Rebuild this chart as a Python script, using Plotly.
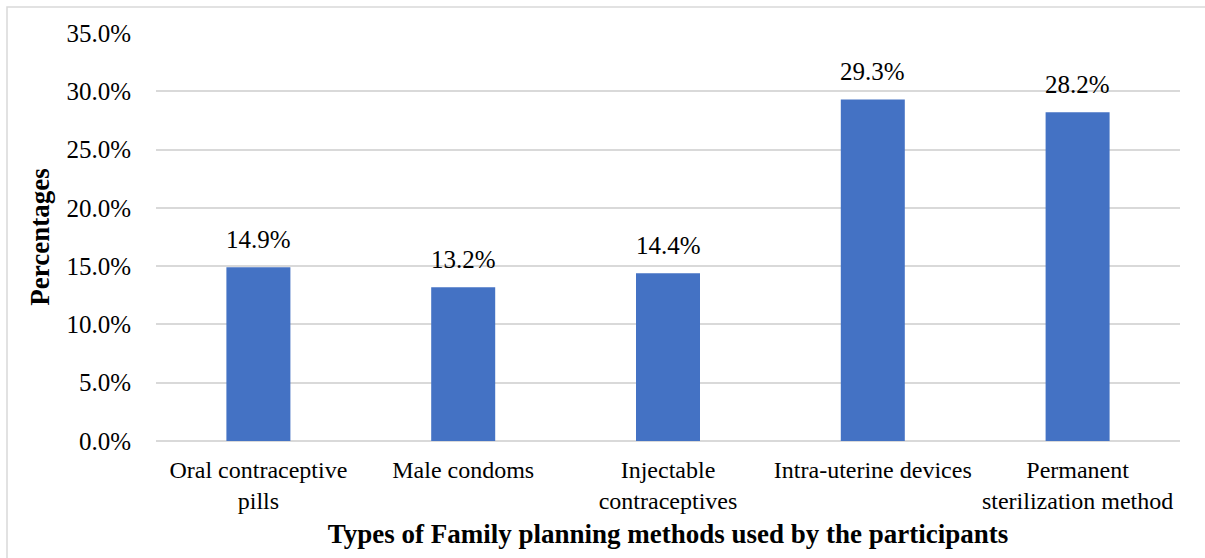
import plotly.graph_objects as go

# Family planning methods and share of participants using each
categories = [
    "Oral contraceptive<br>pills",
    "Male condoms",
    "Injectable<br>contraceptives",
    "Intra-uterine devices",
    "Permanent<br>sterilization method",
]
percentages = [14.9, 13.2, 14.4, 29.3, 28.2]
y_ticks = [0, 5, 10, 15, 20, 25, 30, 35]

FONT = "Liberation Serif, Times New Roman, serif"
W, H = 1205, 558
L, R, T, B = 156, 25, 33, 117

fig = go.Figure(
    go.Bar(
        x=categories,
        y=percentages,
        marker=dict(color="#4472C4", line=dict(width=0)),
        width=0.3125,
        hoverinfo="x+y",
    )
)

# value labels above each bar
for cat, val in zip(categories, percentages):
    fig.add_annotation(
        x=cat,
        y=val,
        text=f"{val:.1f}%",
        showarrow=False,
        yanchor="bottom",
        yshift=12,
        font=dict(family=FONT, size=25, color="#000000"),
    )

pw = W - L - R
ph = H - T - B

fig.update_layout(
    width=W,
    height=H,
    margin=dict(l=L, r=R, t=T, b=B),
    plot_bgcolor="white",
    paper_bgcolor="white",
    showlegend=False,
    font=dict(family=FONT, color="#000000"),
    xaxis=dict(
        showgrid=False,
        showline=False,
        ticks="",
        ticklabelstandoff=12,
        tickfont=dict(family=FONT, size=24),
        title=dict(
            text="<b>Types of Family planning methods used by the participants</b>",
            font=dict(family=FONT, size=27),
            standoff=10,
        ),
    ),
    yaxis=dict(
        range=[0, 35],
        tickvals=y_ticks,
        ticktext=[f"{v:.1f}%" for v in y_ticks],
        showgrid=True,
        gridcolor="#d9d9d9",
        gridwidth=1.5,
        zeroline=True,
        zerolinecolor="#d9d9d9",
        zerolinewidth=1.5,
        showline=False,
        ticks="",
        ticklabelstandoff=24,
        tickfont=dict(family=FONT, size=25),
        title=dict(
            text="<b>Percentages</b>",
            font=dict(family=FONT, size=27),
            standoff=8,
        ),
    ),
    shapes=[
        dict(
            type="rect",
            xref="paper",
            yref="paper",
            x0=(7 - L) / pw,
            x1=(W + 20 - L) / pw,
            y0=-(H + 20 - T - ph) / ph,
            y1=(ph + T - 7) / ph,
            line=dict(color="#d9d9d9", width=1.5),
            fillcolor="rgba(0,0,0,0)",
            layer="below",
        )
    ],
)

fig.write_html("out.html")
